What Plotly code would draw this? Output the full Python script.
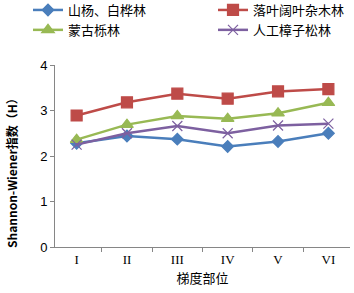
import plotly.graph_objects as go

categories = ["I", "II", "III", "IV", "V", "VI"]
series_names = ["山杨、白桦林", "落叶阔叶杂木林", "蒙古栎林", "人工樟子松林"]
blue_vals = [2.28, 2.44, 2.37, 2.21, 2.32, 2.50]
red_vals = [2.89, 3.18, 3.37, 3.26, 3.42, 3.47]
green_vals = [2.36, 2.69, 2.88, 2.82, 2.94, 3.17]
purple_vals = [2.25, 2.50, 2.66, 2.50, 2.67, 2.71]
y_ticks = [0, 1, 2, 3, 4]

colors = ["#4A7EBB", "#BE4B48", "#98B954", "#7D60A0"]
symbols = ["diamond", "square", "triangle-up", "x-thin-open"]
sizes = [9, 11, 11, 10]
legends = ["legend", "legend2", "legend", "legend2"]
all_vals = [blue_vals, red_vals, green_vals, purple_vals]

W, H = 354, 293
ML, MR, MT, MB = 55, 4, 65, 46
PW, PH = W - ML - MR, H - MT - MB

fig = go.Figure()
for name, vals, c, s, sz, lg in zip(series_names, all_vals, colors, symbols, sizes, legends):
    fig.add_trace(go.Scatter(
        x=categories, y=vals, name=name, mode="lines+markers",
        line=dict(color=c, width=2.5),
        marker=dict(symbol=s, size=sz, color=c, line=dict(color=c, width=1.2)),
        legend=lg,
    ))

leg_common = dict(
    orientation="v", xref="paper", yref="paper",
    yanchor="top", y=1 + (MT + 5) / PH,
    font=dict(family="Noto Sans CJK SC", size=13),
    itemwidth=30, bgcolor="rgba(0,0,0,0)", tracegroupgap=0,
)

fig.update_layout(
    width=W, height=H,
    margin=dict(l=ML, r=MR, t=MT, b=MB, autoexpand=False),
    paper_bgcolor="white", plot_bgcolor="white",
    font=dict(family="Noto Sans CJK SC", size=12, color="#000"),
    showlegend=True,
    legend=dict(x=(28 - ML) / PW, xanchor="left", **leg_common),
    legend2=dict(x=1.0, xanchor="right", **leg_common),
    xaxis=dict(
        type="category", showline=True, linecolor="#868686", linewidth=1,
        ticks="outside", tickson="boundaries", ticklen=4, tickcolor="#868686",
        showgrid=False, zeroline=False,
        tickfont=dict(family="Liberation Serif", size=13),
        title=dict(text="梯度部位", font=dict(family="Noto Sans CJK SC", size=13), standoff=8),
    ),
    yaxis=dict(
        range=[0, 4], tickvals=y_ticks, showline=True, linecolor="#868686", linewidth=1,
        ticks="outside", ticklen=4, tickcolor="#868686",
        showgrid=False, zeroline=False,
        tickfont=dict(family="Liberation Sans", size=13),
    ),
    annotations=[dict(
        text="<b>Shannon-Wiener指数（H）</b>", textangle=-90,
        xref="paper", yref="paper", x=0, y=(247 - 170) / PH,
        xanchor="center", yanchor="middle", xshift=-44, showarrow=False,
        font=dict(family="Noto Sans CJK SC", size=12),
    )],
)

fig.write_html("out.html", config={"displayModeBar": False},
               post_script="document.body.style.margin='0';")
